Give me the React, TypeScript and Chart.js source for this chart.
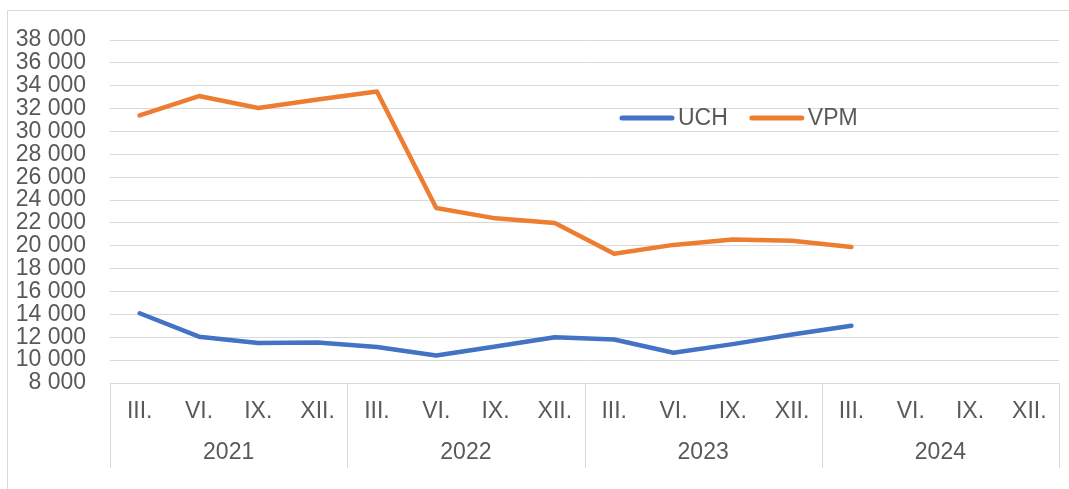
import React, { useEffect, useRef } from "react";
import { Chart, registerables } from "chart.js";

Chart.register(...registerables);

const months: string[] = [
  "III.", "VI.", "IX.", "XII.",
  "III.", "VI.", "IX.", "XII.",
  "III.", "VI.", "IX.", "XII.",
  "III.", "VI.", "IX.", "XII.",
];
const years: string[] = ["2021", "2022", "2023", "2024"];
const uch: (number | null)[] = [
  14100, 12050, 11500, 11550, 11150, 10400, 11200, 12000, 11800, 10650, 11400, 12250, 13000, null, null, null,
];
const vpm: (number | null)[] = [
  31400, 33100, 32050, 32800, 33500, 23300, 22400, 22000, 19300, 20080, 20550, 20450, 19900, null, null, null,
];
const seriesNames: string[] = ["UCH", "VPM"];
const seriesColors: string[] = ["#4472C4", "#ED7D31"];

const FONT = "'Liberation Sans', Arial, sans-serif";
const TEXT = "#595959";
const GRID = "#d9d9d9";

const fmt = (v: number) => String(v).replace(/\B(?=(\d{3})+(?!\d))/g, " ");

const groupDividers = {
  id: "groupDividers",
  afterDraw(chart: any) {
    const xs = chart.scales.x;
    const ctx = chart.ctx;
    const n = months.length;
    const per = n / years.length;
    const half = (xs.getPixelForValue(1) - xs.getPixelForValue(0)) / 2;
    ctx.save();
    ctx.strokeStyle = GRID;
    ctx.lineWidth = 1;
    for (let g = 0; g <= years.length; g++) {
      const idx = g * per;
      const x = idx < n ? xs.getPixelForValue(idx) - half : xs.getPixelForValue(n - 1) + half;
      const px = Math.round(x) + 0.5;
      ctx.beginPath();
      ctx.moveTo(px, chart.chartArea.bottom);
      ctx.lineTo(px, 468);
      ctx.stroke();
    }
    ctx.restore();
  },
};

const innerLegend = {
  id: "innerLegend",
  afterDatasetsDraw(chart: any) {
    const ctx = chart.ctx;
    ctx.save();
    ctx.font = `23px ${FONT}`;
    ctx.textBaseline = "middle";
    ctx.textAlign = "left";
    let x = 620;
    const y = 118;
    chart.data.datasets.forEach((ds: any) => {
      ctx.strokeStyle = ds.borderColor;
      ctx.lineWidth = 5;
      ctx.lineCap = "round";
      ctx.beginPath();
      ctx.moveTo(x + 2, y);
      ctx.lineTo(x + 52, y);
      ctx.stroke();
      ctx.fillStyle = TEXT;
      const tx = x + 58;
      ctx.fillText(ds.label, tx, y + 1);
      x = tx + ctx.measureText(ds.label).width + 22;
    });
    ctx.restore();
  },
};

export default function App() {
  const ref = useRef<HTMLCanvasElement | null>(null);

  useEffect(() => {
    if (!ref.current) return;
    const chart = new Chart(ref.current, {
      type: "line",
      data: {
        labels: months,
        datasets: [
          {
            label: seriesNames[0],
            data: uch,
            borderColor: seriesColors[0],
            backgroundColor: seriesColors[0],
            borderWidth: 4.5,
            borderCapStyle: "round",
            borderJoinStyle: "round",
            pointRadius: 0,
            tension: 0,
            fill: false,
          },
          {
            label: seriesNames[1],
            data: vpm,
            borderColor: seriesColors[1],
            backgroundColor: seriesColors[1],
            borderWidth: 4.5,
            borderCapStyle: "round",
            borderJoinStyle: "round",
            pointRadius: 0,
            tension: 0,
            fill: false,
          },
        ],
      },
      options: {
        responsive: false,
        animation: false,
        devicePixelRatio: 1,
        layout: { padding: { left: 0, right: 10, top: 40, bottom: 0 } },
        plugins: {
          legend: { display: false },
          tooltip: { enabled: false },
        },
        scales: {
          x: {
            type: "category",
            labels: months,
            offset: true,
            weight: 0,
            grid: { display: false, drawTicks: false },
            border: { display: true, color: GRID, width: 1 },
            ticks: {
              color: TEXT,
              font: { family: FONT, size: 23 },
              padding: 14.5,
              maxRotation: 0,
              minRotation: 0,
              autoSkip: false,
            },
            afterFit: (s: any) => {
              s.height = 50;
            },
          },
          x2: {
            type: "category",
            labels: years,
            position: "bottom",
            offset: true,
            weight: 1,
            grid: { display: false, drawTicks: false },
            border: { display: false },
            ticks: {
              color: TEXT,
              font: { family: FONT, size: 23 },
              padding: 6,
              maxRotation: 0,
              autoSkip: false,
            },
            afterFit: (s: any) => {
              s.height = 56;
            },
          },
          y: {
            min: 8000,
            max: 38000,
            grid: { color: GRID, lineWidth: 1, drawTicks: false },
            border: { display: false },
            ticks: {
              stepSize: 2000,
              autoSkip: false,
              color: TEXT,
              font: { family: FONT, size: 23 },
              padding: 24,
              callback: (v: any) => fmt(Number(v)),
            },
            afterFit: (s: any) => {
              s.width = 110;
            },
          },
        },
      },
      plugins: [groupDividers, innerLegend],
    } as any);
    return () => chart.destroy();
  }, []);

  return (
    <div
      style={{
        position: "absolute",
        left: 0,
        top: 0,
        width: 1069,
        height: 489,
        overflow: "hidden",
        background: "#ffffff",
      }}
    >
      <div
        style={{
          position: "absolute",
          left: 7,
          top: 10,
          width: 1100,
          height: 520,
          border: `1px solid ${GRID}`,
          boxSizing: "border-box",
        }}
      />
      <canvas
        ref={ref}
        width={1069}
        height={489}
        style={{ position: "absolute", left: 0, top: 0, width: 1069, height: 489 }}
      />
    </div>
  );
}
